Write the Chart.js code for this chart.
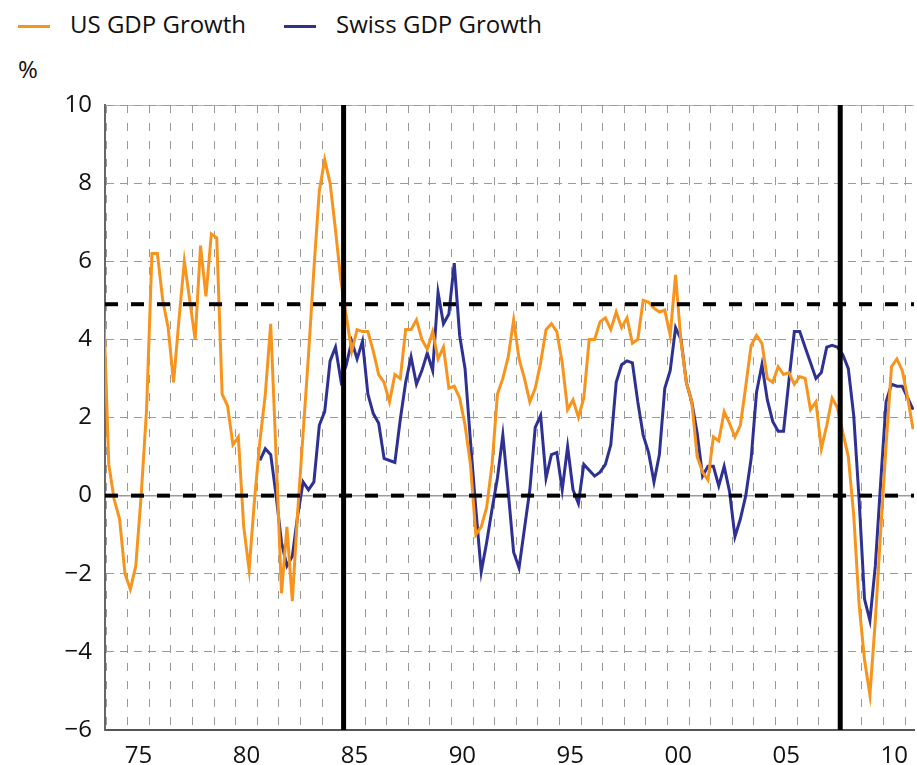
<!DOCTYPE html>
<html lang="en">
<head>
<meta charset="UTF-8">
<title>US vs Swiss GDP Growth</title>
<script src="https://cdn.jsdelivr.net/npm/chart.js"></script>
<style>
    body {
        margin: 0;
        background: #fff;
    }

    .wrap {
        position: relative;
        width: 917px;
        height: 765px;
        font-family: "Open Sans", sans-serif;
        color: #111;
    }

    .legend-item {
        position: absolute;
        top: 8px;
        font-size: 24px;
        line-height: 32px;
        white-space: nowrap;
    }

    .legend-item i {
        display: inline-block;
        width: 32px;
        height: 3px;
        margin-right: 20px;
        vertical-align: middle;
    }

    .unit {
        position: absolute;
        left: 18px;
        top: 53px;
        font-size: 24px;
        line-height: 32px;
    }

    canvas {
        position: absolute;
        left: 0;
        top: 0;
    }
</style>
</head>
<body>
<div class="wrap">
    <div class="legend-item" style="left:18px"><i style="background:#f7941d"></i>US GDP Growth</div>
    <div class="legend-item" style="left:284px"><i style="background:#2e3192"></i>Swiss GDP Growth</div>
    <div class="unit">%</div>
    <canvas id="gdpChart" width="917" height="765"></canvas>
</div>

<script>
    // quarterly y/y growth, %; first value is the quarter that starts at *Start
    const usStart = 1973.75;    // 1973 Q4
    const swissStart = 1981.0;  // 1981 Q1

    const usGrowth = [
        5.0,
        0.8, -0.1, -0.6, -2.0,      // 1974
        -2.4, -1.8, 0.0, 2.2,       // 1975
        6.2, 6.2, 5.0, 4.3,         // 1976
        2.9, 4.5, 6.0, 5.0,         // 1977
        4.0, 6.4, 5.1, 6.7,         // 1978
        6.6, 2.6, 2.3, 1.3,         // 1979
        1.5, -0.8, -1.9, -0.1,      // 1980
        1.4, 2.6, 4.4, 1.0,         // 1981
        -2.5, -0.8, -2.7, -0.4,     // 1982
        1.6, 3.6, 5.8, 7.8,         // 1983
        8.6, 8.0, 6.8, 5.5,         // 1984
        4.6, 3.7, 4.25, 4.2,        // 1985
        4.2, 3.7, 3.1, 2.9,         // 1986
        2.4, 3.1, 3.0, 4.25,        // 1987
        4.25, 4.5, 4.0, 3.75,       // 1988
        4.2, 3.5, 3.8, 2.75,        // 1989
        2.8, 2.5, 1.8, 0.8,         // 1990
        -1.0, -0.8, -0.3, 0.8,      // 1991
        2.6, 3.0, 3.55, 4.5,        // 1992
        3.5, 3.0, 2.4, 2.75,        // 1993
        3.4, 4.25, 4.4, 4.2,        // 1994
        3.4, 2.2, 2.45, 2.0,        // 1995
        2.5, 4.0, 4.0, 4.45,        // 1996
        4.55, 4.25, 4.7, 4.3,       // 1997
        4.55, 3.9, 4.0, 5.0,        // 1998
        4.95, 4.8, 4.7, 4.75,       // 1999
        4.1, 5.65, 3.95, 2.9,       // 2000
        2.4, 1.0, 0.6, 0.4,         // 2001
        1.5, 1.4, 2.15, 1.85,       // 2002
        1.5, 1.8, 2.8, 3.85,        // 2003
        4.1, 3.9, 3.0, 2.9,         // 2004
        3.3, 3.1, 3.15, 2.85,       // 2005
        3.05, 3.0, 2.2, 2.4,        // 2006
        1.2, 1.8, 2.5, 2.25,        // 2007
        1.6, 1.0, -0.5, -2.8,       // 2008
        -4.2, -5.1, -3.2, -0.9,     // 2009
        1.3, 3.3, 3.5, 3.2,         // 2010
        2.5, 1.7                    // 2011
    ];

    const swissGrowth = [
        0.9, 1.2, 1.05, 0.0,        // 1981
        -1.2, -1.8, -1.55, -0.5,    // 1982
        0.35, 0.15, 0.35, 1.8,      // 1983
        2.15, 3.45, 3.8, 2.95,      // 1984
        3.35, 3.95, 3.5, 3.95,      // 1985
        2.6, 2.1, 1.85, 0.95,       // 1986
        0.9, 0.85, 1.95, 2.9,       // 1987
        3.55, 2.85, 3.2, 3.65,      // 1988
        3.2, 5.2, 4.4, 4.65,        // 1989
        5.95, 4.1, 3.25, 1.4,       // 1990
        -0.35, -1.95, -1.2, -0.35,  // 1991
        0.45, 1.55, 0.1, -1.45,     // 1992
        -1.85, -0.85, 0.15, 1.75,   // 1993
        2.05, 0.45, 1.05, 1.1,      // 1994
        0.15, 1.25, 0.15, -0.2,     // 1995
        0.8, 0.65, 0.5, 0.6,        // 1996
        0.8, 1.3, 2.9, 3.35,        // 1997
        3.45, 3.4, 2.4, 1.55,       // 1998
        1.1, 0.35, 1.05, 2.75,      // 1999
        3.2, 4.3, 4.0, 2.9,         // 2000
        2.4, 1.6, 0.5, 0.75,        // 2001
        0.75, 0.25, 0.75, 0.1,      // 2002
        -1.05, -0.6, 0.0, 0.95,     // 2003
        2.65, 3.35, 2.45, 1.9,      // 2004
        1.65, 1.65, 2.95, 4.2,      // 2005
        4.2, 3.8, 3.4, 3.0,         // 2006
        3.15, 3.8, 3.85, 3.8,       // 2007
        3.6, 3.25, 2.05, -0.1,      // 2008
        -2.65, -3.2, -1.8, 0.35,    // 2009
        2.4, 2.85, 2.8, 2.8,        // 2010
        2.5, 2.2                    // 2011
    ];

    const markerLevels = [0, 4.9];     // thick dashed lines
    const solidLevels = [0, 10];       // thin solid grey lines
    const breakYears = [1985, 2008];   // thick vertical lines

    const tickYears = [1975, 1980, 1985, 1990, 1995, 2000, 2005, 2010];
    const tickLabels = ['75', '80', '85', '90', '95', '00', '05', '10'];

    const xMin = 1973.95, xMax = 2011.42;
    const yMin = -6, yMax = 10;

    const gridYears = [];
    for (let yr = 1974; yr <= 2011; yr++) gridYears.push(yr);

    function toPoints(values, start) {
        return values.map((v, i) => ({ x: start + (i + 0.5) / 4, y: v }));
    }

    const flat = { pointRadius: 0, tension: 0, fill: false };
    const orange = '#f7941d';
    const navy = '#2e3192';

    const datasets = [
        ...breakYears.map(yr => ({
            ...flat, data: [{ x: yr, y: yMin }, { x: yr, y: yMax }],
            borderColor: '#000', borderWidth: 5
        })),
        ...markerLevels.map(lv => ({
            ...flat, data: [{ x: xMin, y: lv }, { x: xMax, y: lv }],
            borderColor: '#000', borderWidth: 4, borderDash: [13, 13]
        })),
        {
            ...flat, label: 'US GDP Growth', data: toPoints(usGrowth, usStart),
            borderColor: orange, borderWidth: 3
        },
        {
            ...flat, label: 'Swiss GDP Growth', data: toPoints(swissGrowth, swissStart),
            borderColor: navy, borderWidth: 3
        },
        ...solidLevels.map(lv => ({
            ...flat, data: [{ x: xMin, y: lv }, { x: xMax, y: lv }],
            borderColor: '#9a9a9a', borderWidth: 1.5
        }))
    ];

    Chart.defaults.font.family = '"Open Sans", sans-serif';
    Chart.defaults.font.size = 24;
    Chart.defaults.color = '#111';

    new Chart(document.getElementById('gdpChart'), {
        type: 'line',
        data: { datasets: datasets },
        options: {
            responsive: false,
            animation: false,
            layout: { padding: { top: 105, right: 0, bottom: 0, left: 0 } },
            plugins: {
                legend: { display: false },
                tooltip: { enabled: false }
            },
            scales: {
                x: {
                    type: 'linear',
                    min: xMin,
                    max: xMax,
                    afterBuildTicks: axis => { axis.ticks = gridYears.map(v => ({ value: v })); },
                    afterFit: axis => { axis.height = 35; },
                    ticks: {
                        autoSkip: false,
                        maxRotation: 0,
                        minRotation: 0,
                        padding: 12,
                        labelOffset: 10.8,
                        callback: value => {
                            const i = tickYears.indexOf(value);
                            return i >= 0 ? tickLabels[i] : '';
                        }
                    },
                    grid: { color: '#9a9a9a', lineWidth: 1, drawTicks: false },
                    border: { color: '#555', width: 2, dash: [8, 10] }
                },
                y: {
                    min: yMin,
                    max: yMax,
                    afterFit: axis => { axis.width = 105; },
                    ticks: {
                        stepSize: 2,
                        padding: 13,
                        callback: v => (v < 0 ? '\u2212' + Math.abs(v) : String(v))
                    },
                    grid: { color: '#9a9a9a', lineWidth: 1, drawTicks: false },
                    border: { color: '#666', width: 2, dash: [8, 6] }
                }
            }
        }
    });
</script>
</body>
</html>
